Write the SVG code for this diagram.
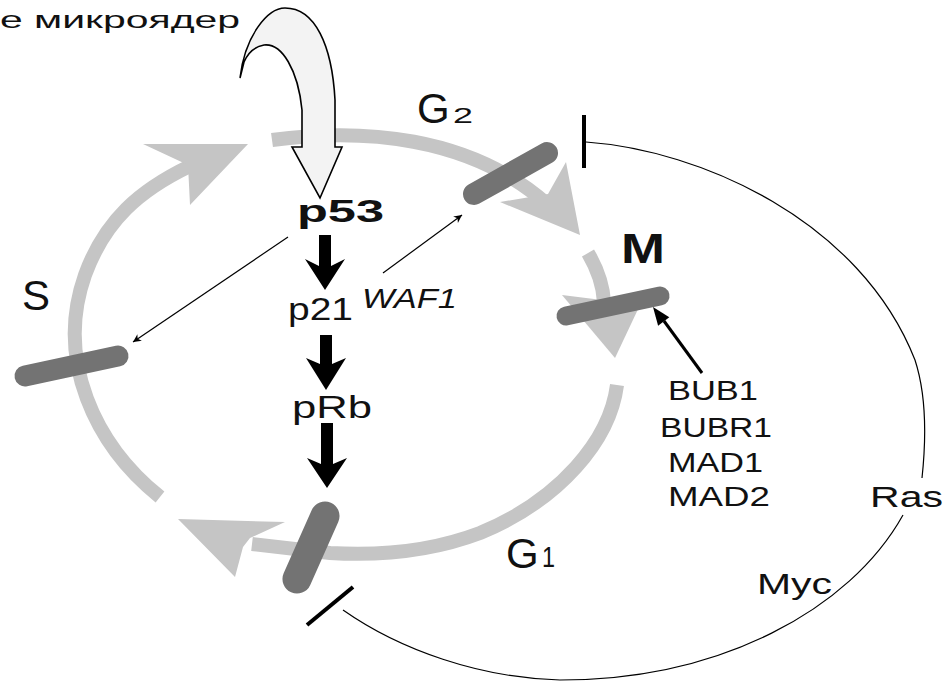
<svg xmlns="http://www.w3.org/2000/svg" width="947" height="684" viewBox="0 0 947 684">
<defs>
<style>
.ring{fill:none;stroke:#c5c5c5;stroke-width:14}
.ringhead{fill:#c5c5c5}
.bar{stroke:#737373;stroke-linecap:round;fill:none}
.thin{fill:none;stroke:#000;stroke-width:1.2}
.t{font-family:"Liberation Sans",Arial,sans-serif;fill:#111}
.blk{fill:#000}
</style>
<marker id="ah" viewBox="0 0 10 10" refX="10" refY="5" markerWidth="11" markerHeight="8" markerUnits="userSpaceOnUse" orient="auto"><path d="M0,0 L10,5 L0,10 L3,5 z" fill="#000"/></marker>
</defs>

<g id="cycle-ring">
<path class="ring" d="M 160 497 C 95 445, 55 360, 85 275 C 105 220, 140 190, 190 166"/>
<polygon class="ringhead" points="143,144 248,144 190,205 188,165"/>
<path class="ring" d="M 272 140 C 360 128, 470 135, 548 205"/>
<polygon class="ringhead" points="566,162 580,235 500,202 548,194"/>
<path class="ring" d="M 588 253 C 598 270, 603 285, 604 302"/>
<polygon class="ringhead" points="562,295 602,300 640,305 615,358"/>
<path class="ring" d="M 617 385 C 610 440, 560 500, 480 533 C 430 552, 380 556, 330 553 L 252 544"/>
<polygon class="ringhead" points="178,519 285,522 250,538 243,547 235,577"/>
</g>

<g id="checkpoints">
<line id="bar-S" class="bar" stroke-width="21" x1="25" y1="376" x2="118" y2="356"/>
<line id="bar-G2" class="bar" stroke-width="22" x1="474" y1="194" x2="547" y2="153"/>
<line id="bar-M" class="bar" stroke-width="19" x1="566" y1="316" x2="660" y2="296"/>
<line id="bar-G1" class="bar" stroke-width="29" x1="325" y1="516" x2="297" y2="579"/>
</g>

<g id="damage-arrow">
<path d="M 240 78 C 245 35, 268 8, 285 8 C 315 8, 332 45, 335 100 L 335 147 L 342 147 L 320 198 L 292 147 L 302 147 L 302 110 C 298 70, 282 43, 264 45 C 253 47, 247 55, 244 62 Z" fill="#f3f3f3" stroke="#000" stroke-width="1.6"/>
</g>

<g id="connectors">
<polygon class="blk" points="319,235 331,235 331,266 345,259 325,290 305,259 319,266"/>
<polygon class="blk" points="320,335 332,335 332,364 346,358 326,390 306,358 320,364"/>
<polygon class="blk" points="321,423 333,423 333,464 347,458 327,488 307,458 321,464"/>
<line class="thin" x1="288" y1="237" x2="133" y2="342" marker-end="url(#ah)"/>
<line class="thin" x1="383" y1="273" x2="462" y2="215" marker-end="url(#ah)"/>
<line x1="702" y1="373" x2="664" y2="321" stroke="#000" stroke-width="3"/>
<polygon class="blk" points="653,307 669.3,317.3 658.1,325.7"/>
<path class="thin" d="M 586 142 C 700 150, 860 220, 915 360 C 928 400, 925 450, 922 478"/>
<path class="thin" d="M 903 515 C 850 610, 720 680, 560 680 C 480 678, 400 650, 343 610"/>
<line x1="584" y1="115" x2="584" y2="168" stroke="#000" stroke-width="4"/>
<line x1="307" y1="625" x2="353" y2="587" stroke="#000" stroke-width="4"/>
</g>

<g id="labels">
<text class="t" x="0" y="28" font-size="24" textLength="240" lengthAdjust="spacingAndGlyphs">е микроядер</text>
<g id="label-G2"><text class="t" x="417" y="123" font-size="42">G</text><text class="t" x="453" y="123" font-size="22" textLength="20" lengthAdjust="spacingAndGlyphs">2</text></g>
<g id="label-S"><text class="t" x="22" y="310" font-size="42">S</text></g>
<g id="label-M"><text class="t" x="621" y="263" font-size="42" font-weight="bold" textLength="44" lengthAdjust="spacingAndGlyphs">M</text></g>
<g id="label-G1"><text class="t" x="506" y="568" font-size="42">G</text><text class="t" x="542" y="567" font-size="30" textLength="13" lengthAdjust="spacingAndGlyphs">1</text></g>
<g id="p53"><text class="t" x="297" y="222" font-size="32" font-weight="bold" textLength="87" lengthAdjust="spacingAndGlyphs">p53</text></g>
<g id="p21"><text class="t" x="288" y="320" font-size="31" textLength="65" lengthAdjust="spacingAndGlyphs">p21</text><text class="t" x="362" y="308" font-size="28" font-style="italic" textLength="95" lengthAdjust="spacingAndGlyphs">WAF1</text></g>
<g id="pRb"><text class="t" x="292" y="418" font-size="31" textLength="80" lengthAdjust="spacingAndGlyphs">pRb</text></g>
<g id="checkpoint-genes">
<text class="t" x="668" y="400" font-size="27" textLength="90" lengthAdjust="spacingAndGlyphs">BUB1</text>
<text class="t" x="660" y="437" font-size="27" textLength="112" lengthAdjust="spacingAndGlyphs">BUBR1</text>
<text class="t" x="668" y="472" font-size="27" textLength="95" lengthAdjust="spacingAndGlyphs">MAD1</text>
<text class="t" x="668" y="506" font-size="27" textLength="102" lengthAdjust="spacingAndGlyphs">MAD2</text>
</g>
<g id="ras"><text class="t" x="870" y="507" font-size="30" textLength="73" lengthAdjust="spacingAndGlyphs">Ras</text></g>
<g id="myc"><text class="t" x="757" y="594" font-size="29" textLength="75" lengthAdjust="spacingAndGlyphs">Myc</text></g>
</g>
</svg>
